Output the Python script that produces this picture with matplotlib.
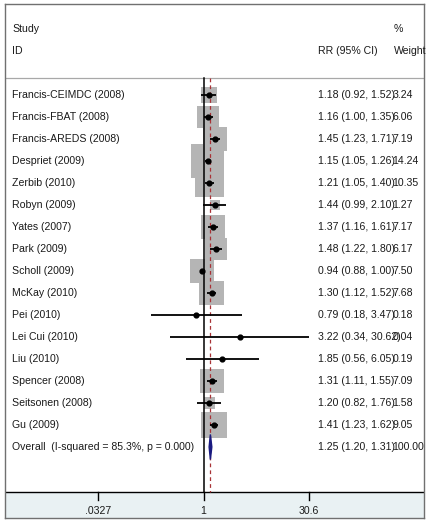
import numpy as np
import matplotlib.pyplot as plt
from matplotlib.patches import Polygon
import matplotlib.transforms as mtransforms

plt.rcParams['font.family'] = ['Liberation Sans', 'DejaVu Sans']

# =========================
# DATA
# =========================
studies = ["Francis-CEIMDC (2008)", "Francis-FBAT (2008)", "Francis-AREDS (2008)",
           "Despriet (2009)", "Zerbib (2010)", "Robyn (2009)", "Yates (2007)",
           "Park (2009)", "Scholl (2009)", "McKay (2010)", "Pei (2010)",
           "Lei Cui (2010)", "Liu (2010)", "Spencer (2008)", "Seitsonen (2008)",
           "Gu (2009)"]
rr = [1.18, 1.16, 1.45, 1.15, 1.21, 1.44, 1.37, 1.48, 0.94, 1.30, 0.79, 3.22, 1.85, 1.31, 1.20, 1.41]
lo = [0.92, 1.00, 1.23, 1.05, 1.05, 0.99, 1.16, 1.22, 0.88, 1.12, 0.18, 0.34, 0.56, 1.11, 0.82, 1.23]
hi = [1.52, 1.35, 1.71, 1.26, 1.40, 2.10, 1.61, 1.80, 1.00, 1.52, 3.47, 30.62, 6.05, 1.55, 1.76, 1.62]
weights = [3.24, 6.06, 7.19, 14.24, 10.35, 1.27, 7.17, 6.17, 7.50, 7.68, 0.18, 0.04, 0.19, 7.09, 1.58, 9.05]

overall_label = "Overall  (I-squared = 85.3%, p = 0.000)"
overall_rr, overall_lo, overall_hi = 1.25, 1.20, 1.31

tick_vals = [0.0327, 1, 30.6]
tick_labels = [".0327", "1", "30.6"]

# =========================
# FIGURE
# =========================
W, H = 430, 524
fig = plt.figure(figsize=(W / 100, H / 100), dpi=100)
ax = fig.add_axes([5 / W, 6 / H, 419 / W, 514 / H])
ax.set_xscale("log")
px_per_ln = 30.85
x_one = 203.5
ax.set_xlim(np.exp((5 - x_one) / px_per_ln), np.exp((424 - x_one) / px_per_ln))
ax.set_ylim(19.23, -4.14)
ax.set_xticks([])
ax.set_yticks([])
ax.minorticks_off()
for s in ax.spines.values():
    s.set_color("#707070")
    s.set_linewidth(1.0)

fs = 7.6
tcol = "#1a1a1a"
blend = mtransforms.blended_transform_factory(ax.transAxes, ax.transData)
x_name, x_rr, x_w = 0.0167, 0.747, 0.924

# header
ax.text(x_name, -3, "Study", transform=blend, fontsize=fs, va="center", color=tcol)
ax.text(x_name, -2, "ID", transform=blend, fontsize=fs, va="center", color=tcol)
ax.text(x_rr, -2, "RR (95% CI)", transform=blend, fontsize=fs, va="center", color=tcol)
ax.text(0.928, -3, "%", transform=blend, fontsize=fs, va="center", color=tcol, clip_on=False)
ax.text(0.928, -2, "Weight", transform=blend, fontsize=fs, va="center", color=tcol, clip_on=False)
ax.axhline(-0.77, color="#a8a8a8", lw=0.9)

# bottom band
band_top = 18.05
ax.axhspan(band_top, 19.23, facecolor="#e9f1f3", edgecolor="none", zorder=0)
ax.axhline(band_top, color="black", lw=1.0)
for v, lab in zip(tick_vals, tick_labels):
    ax.plot([v, v], [band_top, band_top + 0.36], color="black", lw=1.0)
    ax.text(v, 18.91, lab, fontsize=fs, ha="center", va="center", color=tcol)

# reference lines
ax.plot([1, 1], [-0.77, band_top], color="black", lw=1.1, zorder=3)
ax.plot([overall_rr, overall_rr], [-0.77, band_top], color="#a83236", lw=0.9,
        ls=(0, (3, 2.5)), zorder=3)

# studies
rows = np.arange(len(studies))
sides_px = 8.8 * np.sqrt(weights)
ax.scatter(rr, rows, s=(sides_px * 0.72) ** 2, marker="s", color="#b5b5b5",
           edgecolors="none", zorder=2)
ax.hlines(rows, lo, hi, color="black", lw=1.3, zorder=4)
ax.scatter(rr, rows, s=12, marker="o", color="black", zorder=5)

for i, name in enumerate(studies):
    ax.text(x_name, i, name, transform=blend, fontsize=fs, va="center", color=tcol)
    ax.text(x_rr, i, f"{rr[i]:.2f} ({lo[i]:.2f}, {hi[i]:.2f})", transform=blend,
            fontsize=fs, va="center", color=tcol)
    ax.text(x_w, i, f"{weights[i]:.2f}", transform=blend, fontsize=fs,
            va="center", color=tcol)

# overall
yo = len(studies)
ax.add_patch(Polygon([(overall_lo, yo), (overall_rr, yo - 0.57), (overall_hi, yo),
                      (overall_rr, yo + 0.57)], closed=True, color="#1a1a80", zorder=6))
ax.text(x_name, yo, overall_label, transform=blend, fontsize=fs, va="center", color=tcol)
ax.text(x_rr, yo, f"{overall_rr:.2f} ({overall_lo:.2f}, {overall_hi:.2f})",
        transform=blend, fontsize=fs, va="center", color=tcol)
ax.text(x_w, yo, "100.00", transform=blend, fontsize=fs, va="center", color=tcol)

fig.savefig("out.png", dpi=100)
